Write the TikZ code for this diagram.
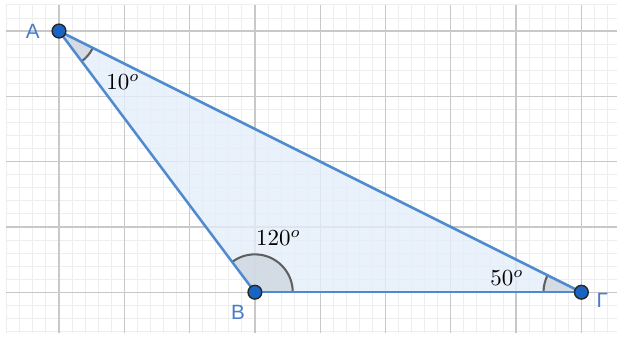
\documentclass[tikz,border=0pt]{standalone}
\usepackage{fontspec}
\newfontfamily\ptfont{Liberation Sans}
\definecolor{segc}{RGB}{78,138,208}
\definecolor{trifill}{RGB}{228,237,250}
\definecolor{ptc}{RGB}{25,100,195}
\definecolor{labc}{RGB}{70,125,200}
\definecolor{angc}{RGB}{95,95,95}
\definecolor{angfill}{RGB}{205,212,222}
\definecolor{minorc}{RGB}{238,238,238}
\definecolor{majorc}{RGB}{200,200,200}

\begin{document}
\begin{tikzpicture}[font=\normalsize,
  seg/.style={segc,line width=1.1pt},
  pt/.style={circle,fill=ptc,draw=black!85,line width=0.6pt,inner sep=0pt,minimum size=6pt},
  ptlabel/.style={text=labc,font=\ptfont\small},
  anglab/.style={font=\normalsize}]
\useasboundingbox (-0.9035,-0.704) rectangle (8.637,4.475);

%================= grid =================
\draw[minorc,line width=0.4pt,step=0.2] (-0.81,-0.63) grid (8.545,4.40);
\draw[majorc,line width=0.6pt,step=1] (-0.81,-0.63) grid (8.545,4.40);

%================= triangle =================
\coordinate (A) at (0,4);
\coordinate (B) at (3,0);
\coordinate (G) at (8,0);
\fill[trifill,opacity=0.8] (A) -- (B) -- (G) -- cycle;

% --- angle sectors
\fill[angfill,opacity=0.75] (A) -- ++(-53.13:0.58) arc[start angle=-53.13,end angle=-26.57,radius=0.58] -- cycle;
\fill[angfill,opacity=0.75] (B) -- ++(0:0.58) arc[start angle=0,end angle=126.87,radius=0.58] -- cycle;
\fill[angfill,opacity=0.75] (G) -- ++(153.43:0.58) arc[start angle=153.43,end angle=180,radius=0.58] -- cycle;

\draw[angc,line width=0.9pt] (A) ++(-53.13:0.58) arc[start angle=-53.13,end angle=-26.57,radius=0.58];
\draw[angc,line width=0.9pt] (B) ++(0:0.58) arc[start angle=0,end angle=126.87,radius=0.58];
\draw[angc,line width=0.9pt] (G) ++(153.43:0.58) arc[start angle=153.43,end angle=180,radius=0.58];

% --- sides
\draw[seg] (A) -- (B);
\draw[seg] (B) -- (G);
\draw[seg] (G) -- (A);

% --- points
\node[pt] (pA) at (A) {};
\node[pt] (pB) at (B) {};
\node[pt] (pG) at (G) {};
\node[ptlabel] (lA) at (-0.40,4.0) {A};
\node[ptlabel] (lB) at (2.74,-0.31) {B};
\node[ptlabel] (lG) at (8.32,-0.13) {Γ};

% --- angle values
\node[anglab] (aA) at (0.98,3.22) {$10^o$};
\node[anglab] (aB) at (3.36,0.83) {$120^o$};
\node[anglab] (aG) at (6.86,0.22) {$50^o$};
\end{tikzpicture}
\end{document}
